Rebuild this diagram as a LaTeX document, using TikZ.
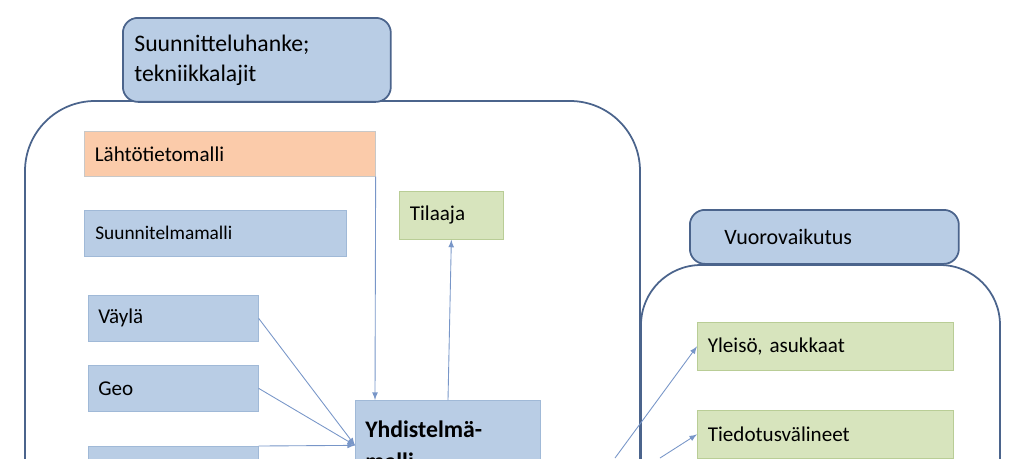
\documentclass[tikz,border=0pt]{standalone}
\usepackage{fontspec}
\setmainfont{Carlito}
\tikzset{
  px/.style={x=0.02cm,y=-0.02cm},
  box/.style={rectangle,anchor=north west,align=left,inner xsep=0.2cm,font=\fontsize{12}{14}\selectfont},
  bluebox/.style={box,fill={rgb,255:red,185;green,205;blue,229},draw={rgb,255:red,160;green,185;blue,215}},
  greenbox/.style={box,fill={rgb,255:red,215;green,228;blue,189},draw={rgb,255:red,185;green,205;blue,150}},
  peachbox/.style={box,fill={rgb,255:red,251;green,203;blue,170},draw={rgb,255:red,200;green,200;blue,200}},
  hull/.style={draw={rgb,255:red,75;green,100;blue,140},line width=1pt},
  conn/.style={draw={rgb,255:red,120;green,150;blue,200},line width=0.5pt,-latex}
}
\begin{document}
\begin{tikzpicture}[px]
\useasboundingbox (0,0) rectangle (1024,458);
\clip (0,0) rectangle (1024,458);
%Containers
\draw[hull,rounded corners=1.4cm] (25,480) -- (25,101) -- (640,101) -- (640,480);
\draw[hull,rounded corners=1.2cm] (641,480) -- (641,265) -- (1000,265) -- (1000,480);
%Headers
\node[bluebox,hull,rounded corners=0.3cm,minimum width=5.36cm,minimum height=1.68cm,text width=4.9cm,font=\fontsize{13.5}{17}\selectfont] (hanke) at (122,17) {Suunnitteluhanke;\\tekniikkalajit};
\node[bluebox,hull,rounded corners=0.3cm,minimum width=5.38cm,minimum height=1.08cm,text width=4.0cm,inner xsep=0.6cm,font=\fontsize{12.5}{14}\selectfont] (vuoro) at (689,209) {Vuorovaikutus};
%Models
\node[peachbox,minimum width=5.82cm,minimum height=0.9cm,text width=5.4cm] (lahto) at (84,131) {Lähtötietomalli};
\node[bluebox,minimum width=5.24cm,minimum height=0.92cm,text width=4.8cm,font=\fontsize{11}{13}\selectfont] (suunn) at (84,210) {Suunnitelmamalli};
\node[greenbox,minimum width=2.08cm,minimum height=0.96cm,text width=1.66cm] (tilaaja) at (399,191) {Tilaaja};
\node[bluebox,minimum width=3.4cm,minimum height=0.92cm,text width=3cm] (vayla) at (88,295) {Väylä};
\node[bluebox,minimum width=3.4cm,minimum height=0.92cm,text width=3cm] (geo) at (88,365) {Geo};
\node[bluebox,minimum width=3.4cm,minimum height=0.92cm,text width=3cm] (muu) at (88,446) {};
\node[bluebox,minimum width=3.7cm,minimum height=1.8cm,text width=3.3cm,font=\bfseries\fontsize{13.5}{18}\selectfont,anchor=north west] (yhd) at (355,400) {Yhdistelmä-\\malli};
%Interaction
\node[greenbox,minimum width=5.12cm,minimum height=0.96cm,text width=4.7cm] (yleiso) at (697,322) {Yleisö, asukkaat};
\node[greenbox,minimum width=5.12cm,minimum height=0.96cm,text width=4.7cm] (tiedot) at (697,410) {Tiedotusvälineet};
%Connectors
\coordinate (lahtoEnd) at (375,400);
\coordinate (yhdTop) at (448,400);
\coordinate (src1) at (615,458);
\coordinate (src2) at (660,458);
\draw[conn] (lahto.south east) -- (lahtoEnd);
\draw[conn] (yhdTop) -- (tilaaja.south);
\draw[conn] (vayla.east) -- (yhd.west);
\draw[conn] (geo.east) -- (yhd.west);
\draw[conn] (muu.north east) -- (yhd.west);
\draw[conn] (src1) -- (yleiso.west);
\draw[conn] (src2) -- (tiedot.west);
\end{tikzpicture}
\end{document}
